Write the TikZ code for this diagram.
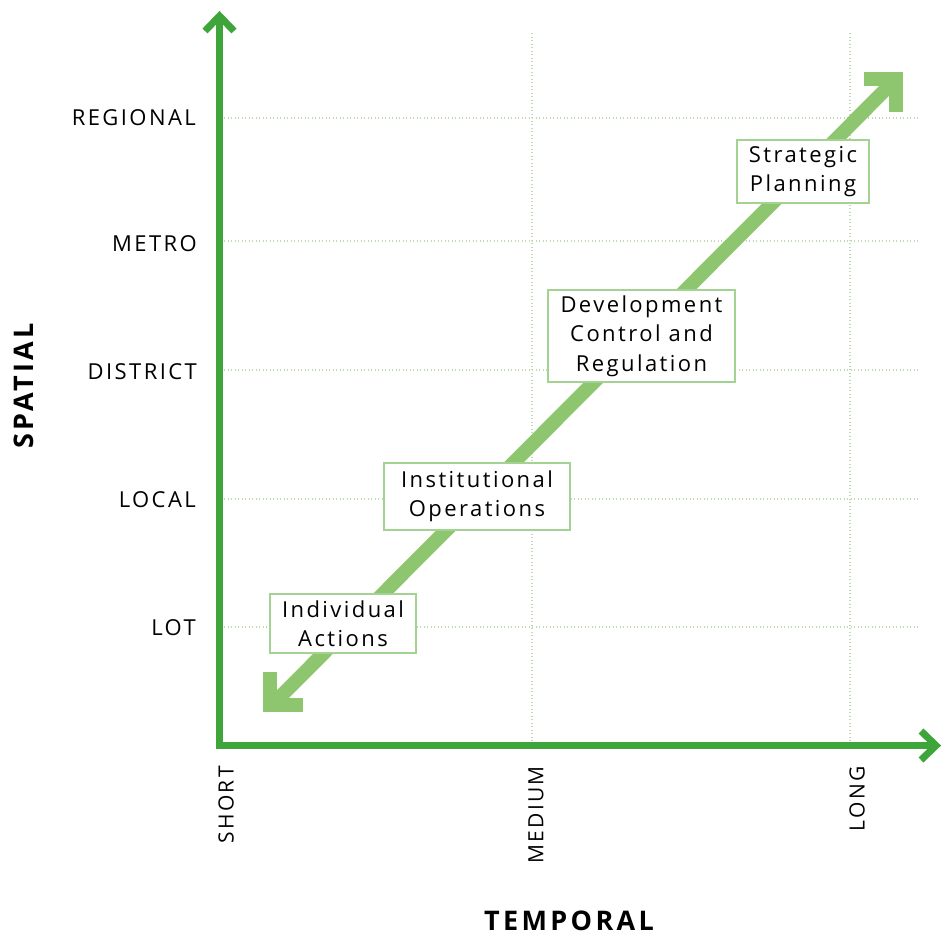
\documentclass[tikz,border=0pt]{standalone}
\usepackage{fontspec}
\setmainfont{Open Sans}
\newfontfamily\lab{Open Sans}[LetterSpace=11]
\newfontfamily\labb{Open Sans}[LetterSpace=12.5,BoldFont={Open Sans Bold}]
\definecolor{axisgreen}{HTML}{3DA53A}
\definecolor{diaggreen}{HTML}{8DC66E}
\definecolor{boxgreen}{HTML}{A3D393}
\definecolor{gridgreen}{HTML}{BFD9B5}
\begin{document}
\begin{tikzpicture}[x=1pt,y=-1pt,
  axis/.style={draw=axisgreen,line width=7},
  gridln/.style={draw=gridgreen,line width=1.3,dash pattern=on 1.3pt off 2.2pt},
  ylab/.style={anchor=east,font=\lab\fontsize{22}{26}\selectfont,inner sep=0},
  xlab/.style={anchor=east,rotate=90,font=\lab\fontsize{21}{25}\selectfont,inner sep=0},
  stagebox/.style={draw=boxgreen,line width=1.3,fill=white,align=center,inner sep=0,
     font=\lab\fontsize{22}{29.5}\selectfont},
  diag/.style={draw=diaggreen,line width=14}]
\useasboundingbox (0,0) rectangle (942,938);
% grid
\foreach \yy in {118,241,370,499,627} \draw[gridln] (224,\yy) -- (920,\yy);
\foreach \xx in {532,850} \draw[gridln] (\xx,33) -- (\xx,741);
% axes
\coordinate (O) at (219.5,745.5);
\coordinate (ytip) at (219.5,16);
\coordinate (xtip) at (936,745.5);
\draw[axis,line cap=rect] (O) -- (219.5,18);
\draw[axis] (O) -- (934,745.5);
\draw[axis,line join=miter,line cap=butt] (205,31) -- (ytip) -- (234,31);
\draw[axis,line join=miter,line cap=butt] (921,731) -- (xtip) -- (921,760);
% diagonal arrow
\coordinate (dA) at (274,703);
\coordinate (dB) at (893,82);
\draw[diag] (dA) -- (dB);
\draw[diag,line join=miter,line cap=butt] (270,672) -- (270,705) -- (303,705);
\draw[diag,line join=miter,line cap=butt] (864,79) -- (896,79) -- (896,112);
% y labels
\node[ylab] (lreg) at (196,118) {REGIONAL};
\node[ylab] (lmet) at (197,244) {METRO};
\node[ylab] (ldis) at (197,372) {DISTRICT};
\node[ylab] (lloc) at (196,500) {LOCAL};
\node[ylab] (llot) at (196,628) {LOT};
% x labels
\node[xlab] (lsho) at (226,766) {SHORT};
\node[xlab] (lmed) at (536,766) {MEDIUM};
\node[xlab] (llon) at (857,766) {LONG};
% axis titles
\node[rotate=90,font=\labb\bfseries\fontsize{27}{32}\selectfont,inner sep=0] (tsp) at (24,386) {SPATIAL};
\node[font=\labb\bfseries\fontsize{27}{32}\selectfont,inner sep=0] (ttm) at (569,921) {TEMPORAL};
% boxes
\node[stagebox,minimum width=146,minimum height=59] (b1) at (343,623.5) {Individual\\Actions};
\node[stagebox,minimum width=186,minimum height=67] (b2) at (477,496.5) {Institutional\\Operations};
\node[stagebox,minimum width=187,minimum height=92] (b3) at (641.5,336) {Development\\Control and\\Regulation};
\node[stagebox,minimum width=132,minimum height=63] (b4) at (803,171.5) {Strategic\\Planning};
\end{tikzpicture}
\end{document}
